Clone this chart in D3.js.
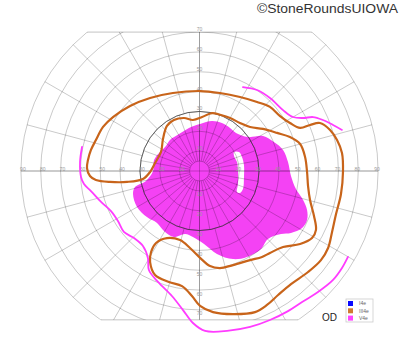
<!DOCTYPE html>
<html>
<head>
<meta charset="utf-8">
<script src="https://cdn.jsdelivr.net/npm/d3@7"></script>
<style>
  body { margin: 0; background: #fff; }
  svg { display: block; font-family: "Liberation Sans", Arial, sans-serif; }
</style>
</head>
<body>
<div id="canvas"></div>
<script>
// isopters, in degrees from fixation: [horizontal, vertical]
const iii4e = [
  [0.3,40.3],[-13.4,39.3],[-24.9,36.8],[-35.0,32.8],[-43.6,27.2],[-48.6,22.2],[-52.2,15.6],
  [-54.7,10.6],[-56.2,5.5],[-56.7,1.5],[-55.2,-2.5],[-52.2,-4.5],[-45.1,-5.5],[-36.5,-5.5],
  [-28.5,-4.0],[-24.9,-0.5],[-22.4,4.0],[-19.4,9.6],[-18.4,16.1],[-16.4,22.7],[-12.9,25.7],
  [-7.8,26.7],[-3.3,25.7],[1.3,27.2],[6.3,29.2],[10.8,28.2],[15.4,26.7],[20.4,24.2],
  [25.5,22.2],[32.0,21.2],[39.1,19.2],[45.6,17.1],[50.7,13.6],[53.2,7.1],[54.2,-0.5],
  [54.7,-7.6],[55.7,-14.6],[57.7,-22.7],[58.7,-29.7],[56.7,-33.8],[50.7,-36.8],[42.1,-38.3],
  [35.5,-41.3],[31.5,-43.3],[25.5,-44.9],[16.9,-47.4],[10.3,-48.9],[5.3,-47.9],[0.3,-43.8],
  [-4.8,-38.8],[-9.8,-34.8],[-16.4,-33.8],[-21.9,-36.3],[-24.4,-40.8],[-24.9,-45.9],
  [-22.4,-52.4],[-15.4,-55.9],[-8.8,-58.0],[-3.8,-63.0],[0.3,-68.0],[6.8,-71.1],[16.9,-72.1],
  [28.0,-71.1],[34.0,-67.5],[39.6,-62.5],[46.1,-57.0],[54.7,-50.9],[61.2,-44.9],[64.8,-38.8],
  [66.8,-30.7],[68.8,-21.7],[71.3,-11.6],[72.3,-0.5],[71.8,9.1],[69.3,15.6],[65.8,20.7],
  [60.7,24.2],[55.7,23.2],[50.7,21.7],[45.6,24.2],[40.6,27.7],[35.5,32.3],[29.0,34.8],
  [20.4,37.3],[10.3,39.3]
];

const v4eArea = [
  [0.3,23.7],[6.3,25.2],[11.3,24.2],[15.4,21.7],[18.4,19.2],[24.4,17.1],[32.0,17.6],
  [37.5,14.6],[42.1,10.6],[44.6,4.5],[46.1,-2.5],[48.6,-9.1],[52.2,-14.6],[54.2,-19.7],
  [54.2,-24.7],[51.7,-28.7],[46.1,-31.2],[41.1,-31.8],[34.5,-34.3],[31.0,-39.3],[23.9,-43.3],
  [16.9,-44.4],[8.8,-41.8],[2.3,-36.8],[-3.3,-33.3],[-7.3,-31.8],[-12.9,-33.3],[-17.9,-30.2],
  [-21.4,-26.2],[-26.5,-23.2],[-31.5,-18.1],[-33.5,-11.6],[-32.5,-8.1],[-27.0,-5.0],
  [-23.4,0],[-22.9,5.5],[-19.9,9.6],[-16.9,12.6],[-14.9,15.6],[-10.3,18.6],[-5.3,21.7]
];

const v4eHole = [
  [17.4,9.6],[19.9,9.6],[21.4,7.1],[22.4,3.0],[22.4,-3.5],[21.9,-9.1],[20.4,-11.1],
  [18.9,-10.6],[19.4,-6.6],[19.4,-0.5],[18.9,4.5],[17.4,7.6]
];

const v4eUpper = [
  [21.9,42.3],[29.0,40.8],[35.5,36.8],[42.1,30.7],[47.1,27.2],[52.2,26.7],[57.2,27.2],
  [62.2,25.7],[67.3,23.2],[71.8,20.7]
];

const v4eLower = [
  [-59.2,12.1],[-60.2,4.5],[-59.7,-3.0],[-58.2,-6.6],[-54.7,-10.1],[-49.6,-15.6],[-44.6,-20.2],
  [-41.1,-25.2],[-38.1,-30.7],[-33.0,-33.8],[-28.5,-37.8],[-26.0,-43.8],[-25.5,-49.9],
  [-20.9,-55.9],[-13.9,-63.0],[-8.3,-70.1],[-3.3,-76.6],[2.8,-80.6],[13.9,-80.6],[25.5,-78.6],
  [35.5,-75.1],[44.6,-70.6],[51.7,-66.0],[59.7,-61.0],[67.3,-54.9],[71.8,-48.9],[74.8,-43.3]
];

const rings = [5, 10, 20, 30, 40, 50, 60, 70, 80, 90];
const sideTicks = [10, 20, 30, 40, 50, 60, 70, 80, 90];
const upTicks = [10, 20, 30, 40, 50, 60, 70];
const downTicks = [10, 20, 30, 40, 50, 60, 70];
const topLimit = 70, bottomLimit = 75;

const legendNames = ["I4e", "III4e", "V4e"];
const legendColors = ["#0a0aff", "#d07a30", "#ff44ff"];

const width = 400, height = 352;
const cx = 199.5, cy = 171, R = 178.6;

const x = d3.scaleLinear().domain([-90, 90]).range([cx - R, cx + R]);
const y = d3.scaleLinear().domain([-90, 90]).range([cy + R, cy - R]);
const r = d3.scaleLinear().domain([0, 90]).range([0, R]);

const svg = d3.select("#canvas").append("svg")
  .attr("width", width)
  .attr("height", height);

svg.append("clipPath").attr("id", "field")
  .append("rect")
  .attr("x", 0).attr("y", y(topLimit))
  .attr("width", width).attr("height", y(-bottomLimit) - y(topLimit));

// filled V4e area with its hole
const closed = d3.line().x(d => x(d[0])).y(d => y(d[1])).curve(d3.curveCatmullRomClosed);
svg.append("path")
  .attr("d", closed(v4eArea) + closed(v4eHole))
  .attr("fill", "#f442f4")
  .attr("fill-rule", "evenodd");

// grid
const grid = svg.append("g").attr("clip-path", "url(#field)")
  .attr("fill", "none").attr("stroke", "#000").attr("stroke-opacity", 0.27).attr("stroke-width", 0.8);

grid.selectAll("circle.ring").data(rings).enter().append("circle")
  .attr("class", "ring")
  .attr("cx", x(0)).attr("cy", y(0))
  .attr("r", d => r(d));

const polar = (e, a) => [x(e * Math.cos(a * Math.PI / 180)), y(e * Math.sin(a * Math.PI / 180))];
const outerSpokes = d3.range(0, 360, 15);
const innerSpokes = d3.range(0, 360, 10);

grid.selectAll("line.outer").data(outerSpokes).enter().append("line")
  .attr("x1", a => polar(30, a)[0]).attr("y1", a => polar(30, a)[1])
  .attr("x2", a => polar(90, a)[0]).attr("y2", a => polar(90, a)[1]);
grid.selectAll("line.inner").data(innerSpokes).enter().append("line")
  .attr("x1", a => polar(5, a)[0]).attr("y1", a => polar(5, a)[1])
  .attr("x2", a => polar(30, a)[0]).attr("y2", a => polar(30, a)[1]);

grid.append("line")
  .attr("x1", x(-90)).attr("x2", x(90)).attr("y1", y(0)).attr("y2", y(0));
grid.append("line")
  .attr("x1", x(0)).attr("x2", x(0)).attr("y1", y(topLimit)).attr("y2", y(-bottomLimit));

const topHalf = Math.sqrt(90 * 90 - topLimit * topLimit);
const bottomHalf = Math.sqrt(90 * 90 - bottomLimit * bottomLimit);
svg.append("line")
  .attr("x1", x(-topHalf)).attr("x2", x(topHalf)).attr("y1", y(topLimit)).attr("y2", y(topLimit))
  .attr("stroke", "#000").attr("stroke-opacity", 0.27).attr("stroke-width", 0.9);
svg.append("line")
  .attr("x1", x(-bottomHalf)).attr("x2", x(bottomHalf)).attr("y1", y(-bottomLimit)).attr("y2", y(-bottomLimit))
  .attr("stroke", "#000").attr("stroke-opacity", 0.27).attr("stroke-width", 0.9);

// 30 degree ring
svg.append("circle")
  .attr("cx", x(0)).attr("cy", y(0)).attr("r", r(30))
  .attr("fill", "none").attr("stroke", "#333").attr("stroke-opacity", 0.8).attr("stroke-width", 0.9);

// degree labels
const labels = svg.append("g")
  .attr("font-size", 5).attr("fill", "#999").attr("text-anchor", "middle");
labels.selectAll("text.left").data(sideTicks).enter().append("text")
  .attr("x", d => x(-d) + 2).attr("y", y(0) - 0.5).text(d => d);
labels.selectAll("text.right").data(sideTicks).enter().append("text")
  .attr("x", d => x(d) - 1).attr("y", y(0) - 0.5).text(d => d);
labels.selectAll("text.up").data(upTicks).enter().append("text")
  .attr("x", x(0)).attr("y", d => y(d) - 1).text(d => d);
labels.selectAll("text.down").data(downTicks).enter().append("text")
  .attr("x", x(0)).attr("y", d => y(-d) + 5.5).text(d => d);

// isopter lines
const open = d3.line().x(d => x(d[0])).y(d => y(d[1])).curve(d3.curveCatmullRom);
svg.append("path")
  .attr("d", closed(iii4e))
  .attr("fill", "none").attr("stroke", "#c8641a").attr("stroke-width", 2.2);
[v4eUpper, v4eLower].forEach(seg => {
  svg.append("path")
    .attr("d", open(seg))
    .attr("fill", "none").attr("stroke", "#ff3cff").attr("stroke-width", 1.8)
    .attr("stroke-linecap", "round");
});

// legend
const legend = svg.append("g").attr("transform", "translate(346,299)");
legend.append("rect")
  .attr("width", 27).attr("height", 23)
  .attr("fill", "#fff").attr("stroke", "#ccc").attr("stroke-width", 0.8);
const rows = legend.selectAll("g.row").data(legendNames).enter().append("g")
  .attr("transform", (d, i) => `translate(2,${2 + i * 7.3})`);
rows.append("rect")
  .attr("width", 5).attr("height", 5)
  .attr("fill", (d, i) => legendColors[i]);
rows.append("text")
  .attr("x", 11).attr("y", 4.3)
  .attr("font-size", 5).attr("fill", "#666")
  .text(d => d);

svg.append("text")
  .attr("x", 322).attr("y", 321)
  .attr("font-size", 10).attr("fill", "#222")
  .text("OD");

svg.append("text")
  .attr("x", 398).attr("y", 12.5)
  .attr("text-anchor", "end")
  .attr("font-size", 12.5).attr("fill", "#333")
  .attr("textLength", 141).attr("lengthAdjust", "spacingAndGlyphs")
  .text("©StoneRoundsUIOWA");
</script>
</body>
</html>
